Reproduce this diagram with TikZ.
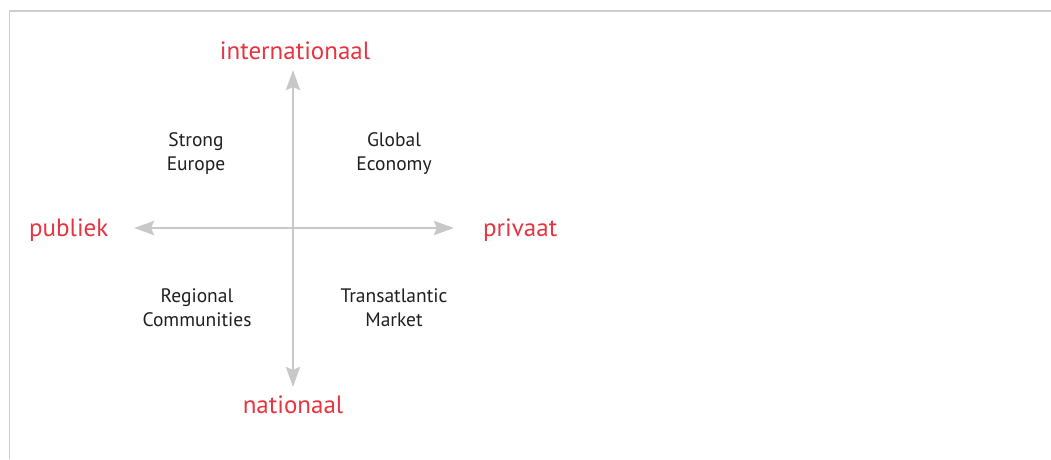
\documentclass[tikz,border=0pt]{standalone}
\usepackage{fontspec}
\setmainfont{PT Sans}
\usetikzlibrary{arrows.meta}
\definecolor{axisgrey}{RGB}{200,200,200}
\definecolor{framegrey}{RGB}{205,205,205}
\definecolor{labelred}{RGB}{232,52,64}
\begin{document}
\begin{tikzpicture}[x=1pt,y=-1pt,
  axis/.style={draw=axisgrey,line width=2.8pt,{Stealth[length=20pt,width=14pt,inset=3pt]}-{Stealth[length=20pt,width=14pt,inset=3pt]}},
  pole/.style={text=labelred,font=\fontsize{25}{28}\selectfont,inner sep=0pt},
  quad/.style={text=black!88,font=\fontsize{19.5}{24}\selectfont,align=center,inner sep=0pt}]
\useasboundingbox (0,0) rectangle (1051,459);
\fill[white] (0,0) rectangle (1051,459);
% frame
\coordinate (ftl) at (9.5,11);
\coordinate (ftr) at (1051,11);
\coordinate (fbl) at (9.5,459);
\draw[framegrey,line width=1.2pt] (fbl) -- (ftl) -- (ftr);
% axis ends
\coordinate (top) at (293,70);
\coordinate (bot) at (293,387);
\coordinate (lft) at (134,228);
\coordinate (rgt) at (454,228);
\draw[axis] (bot) -- (top);
\draw[axis] (lft) -- (rgt);
% pole labels
\node[pole,anchor=base] (intl) at (295,59) {internationaal};
\node[pole,anchor=base] (natl) at (293,413) {nationaal};
\node[pole,anchor=base west] (publ) at (29,236) {publiek};
\node[pole,anchor=base west] (priv) at (483,236) {privaat};
% quadrant labels
\node[quad] (se) at (196,154) {Strong\\Europe};
\node[quad] (ge) at (394,154) {Global\\Economy};
\node[quad] (rc) at (197,308) {Regional\\Communities};
\node[quad] (tm) at (394,308) {Transatlantic\\Market};
\end{tikzpicture}
\end{document}
